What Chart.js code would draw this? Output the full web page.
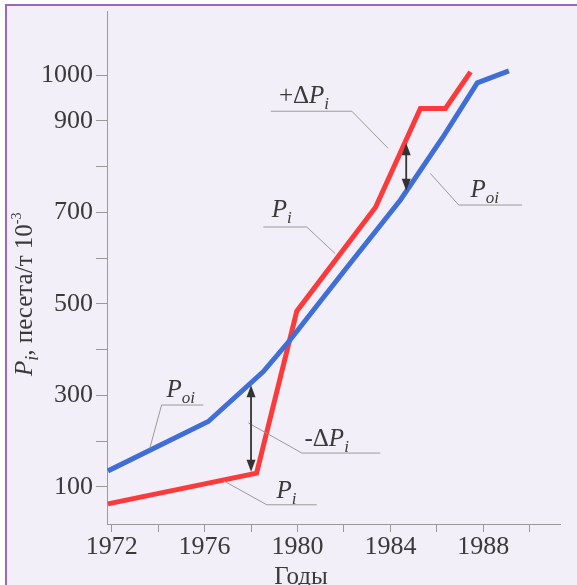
<!DOCTYPE html>
<html>
<head>
<meta charset="utf-8">
<script src="https://cdn.jsdelivr.net/npm/chart.js@4.4.1/dist/chart.umd.min.js"></script>
<style>
  html, body { margin: 0; padding: 0; background: #fff; }
  #wrap { width: 577px; height: 585px; position: relative; }
</style>
</head>
<body>
<div id="wrap"><canvas id="price-chart"></canvas></div>
<script>
// P_oi - smooth reference price, P_i - actual price (песета/т 10^-3)
const oiYears = [1971.84, 1976.16, 1978.53, 1979.68, 1982.1, 1984.43, 1986.23, 1987.74, 1989.1]
const oiPrices = [135, 243, 352, 421, 578, 727, 862, 983, 1009]
const iYears = [1971.84, 1978.24, 1979.97, 1983.36, 1985.29, 1986.37, 1987.45]
const iPrices = [63, 130, 484, 711, 927, 927, 1007]

const xTickValues = [1972, 1974, 1976, 1978, 1980, 1982, 1984, 1986, 1988, 1990]
const xTickLabels = [1972, 1976, 1980, 1984, 1988]
const yTickValues = [100, 200, 300, 400, 500, 600, 700, 800, 900, 1000]
const yTickLabels = [100, 300, 500, 700, 900, 1000]

// double arrows: [year, from, to]
const deltaArrows = [
  [1978.0, 133, 322],
  [1984.68, 747, 851]
]

// callout labels: prefix, subscript, text anchor [year, value], leader polyline
const callouts = [
  { pre: '+Δ', sub: 'i', at: [1979.2, 940], line: [[1978.85, 921], [1982.34, 921], [1983.9, 840]] },
  { pre: '', sub: 'oi', at: [1987.45, 734], line: [[1989.67, 716], [1986.94, 716], [1985.72, 785]] },
  { pre: '', sub: 'i', at: [1978.89, 690], line: [[1978.53, 668], [1980.4, 668], [1981.62, 610]] },
  { pre: '', sub: 'oi', at: [1974.36, 297], line: [[1975.95, 279], [1974.15, 279], [1973.64, 184]] },
  { pre: '-Δ', sub: 'i', at: [1980.3, 189], line: [[1983.56, 174], [1980.19, 174], [1977.88, 240]] },
  { pre: '', sub: 'i', at: [1979.1, 75], line: [[1980.83, 61], [1978.68, 61], [1976.83, 113]] }
]

const SERIF = '"Liberation Serif", "Times New Roman", serif'
const TEXT = '#3a3a3a'

function drawRich (ctx, x, y, parts) {
  let cx = x
  parts.forEach(p => {
    ctx.font = p.font
    ctx.fillText(p.t, cx, y + (p.dy || 0))
    cx += ctx.measureText(p.t).width
  })
}

const decorations = {
  id: 'decorations',
  beforeDraw (chart) {
    const ctx = chart.ctx
    ctx.save()
    ctx.fillStyle = '#fff'
    ctx.fillRect(0, 0, chart.width, chart.height)
    ctx.fillStyle = '#f3eff8'
    ctx.fillRect(5, 4, chart.width - 5, chart.height - 4)
    ctx.strokeStyle = '#9a68c4'
    ctx.lineWidth = 2
    ctx.beginPath()
    ctx.moveTo(6, chart.height)
    ctx.lineTo(6, 5)
    ctx.lineTo(chart.width, 5)
    ctx.stroke()
    ctx.restore()
  },
  afterDatasetsDraw (chart) {
    const ctx = chart.ctx
    const { x: xs, y: ys } = chart.scales
    const pt = (a) => [xs.getPixelForValue(a[0]), ys.getPixelForValue(a[1])]
    ctx.save()

    // leader lines
    ctx.strokeStyle = '#9a9a9a'
    ctx.lineWidth = 1
    callouts.forEach(c => {
      ctx.beginPath()
      c.line.forEach((p, i) => {
        const [px, py] = pt(p)
        if (i === 0) ctx.moveTo(px, py)
        else ctx.lineTo(px, py)
      })
      ctx.stroke()
    })

    // labels
    ctx.fillStyle = TEXT
    ctx.textBaseline = 'alphabetic'
    ctx.textAlign = 'left'
    callouts.forEach(c => {
      const [px, py] = pt(c.at)
      const parts = []
      if (c.pre) parts.push({ t: c.pre, font: '25px ' + SERIF })
      parts.push({ t: 'P', font: 'italic 25px ' + SERIF })
      parts.push({ t: c.sub, font: 'italic 17px ' + SERIF, dy: 6 })
      drawRich(ctx, px, py, parts)
    })

    // arrows
    ctx.strokeStyle = '#333'
    ctx.fillStyle = '#333'
    ctx.lineWidth = 1.8
    deltaArrows.forEach(([yr, a, b]) => {
      const x = xs.getPixelForValue(yr)
      const y1 = ys.getPixelForValue(a)
      const y2 = ys.getPixelForValue(b)
      ctx.beginPath()
      ctx.moveTo(x, y1 - 8)
      ctx.lineTo(x, y2 + 8)
      ctx.stroke()
      ;[[y1, -1], [y2, 1]].forEach(([y, d]) => {
        ctx.beginPath()
        ctx.moveTo(x, y)
        ctx.lineTo(x - 4.5, y + d * 12)
        ctx.lineTo(x + 4.5, y + d * 12)
        ctx.closePath()
        ctx.fill()
      })
    })

    // axis titles
    ctx.fillStyle = TEXT
    ctx.textAlign = 'center'
    ctx.font = '25px ' + SERIF
    ctx.fillText('Годы', 301, 584)

    ctx.textAlign = 'left'
    ctx.translate(32, 376)
    ctx.rotate(-Math.PI / 2)
    drawRich(ctx, 0, 0, [
      { t: 'P', font: 'italic 25px ' + SERIF },
      { t: 'i', font: 'italic 18px ' + SERIF, dy: 6 },
      { t: ', песета/т 10', font: '25px ' + SERIF },
      { t: '-3', font: '14px ' + SERIF, dy: -11 }
    ])
    ctx.restore()
  }
}

const ctx = document.getElementById('price-chart')

const chart = new Chart(ctx, {
  type: 'line',
  data: {
    datasets: [{
      label: 'Poi',
      data: oiYears.map((x, i) => ({ x, y: oiPrices[i] })),
      borderColor: '#3f6fd6',
      borderWidth: 5,
      pointRadius: 0,
      tension: 0,
      fill: false
    }, {
      label: 'Pi',
      data: iYears.map((x, i) => ({ x, y: iPrices[i] })),
      borderColor: '#fb3b3b',
      borderWidth: 5,
      pointRadius: 0,
      tension: 0,
      fill: false
    }]
  },
  options: {
    responsive: true,
    maintainAspectRatio: false,
    animation: false,
    layout: { padding: { left: 0, top: 11, right: 17, bottom: 0 } },
    plugins: {
      legend: { display: false },
      tooltip: { enabled: false }
    },
    scales: {
      x: {
        type: 'linear',
        min: 1971.8,
        max: 1991.3,
        afterBuildTicks: (scale) => { scale.ticks = xTickValues.map(v => ({ value: v })) },
        afterFit: (scale) => {
          scale.height = 61
          scale.paddingLeft = 0
          scale.paddingRight = 0
        },
        ticks: {
          autoSkip: false,
          maxRotation: 0,
          padding: 0,
          color: TEXT,
          font: { family: SERIF, size: 26 },
          callback: (v) => xTickLabels.includes(v) ? String(v) : ''
        },
        grid: { drawOnChartArea: false, tickLength: 8, color: '#9a9a9a' },
        border: { color: '#9a9a9a' }
      },
      y: {
        type: 'linear',
        min: 19,
        max: 1140,
        afterBuildTicks: (scale) => { scale.ticks = yTickValues.map(v => ({ value: v })) },
        afterFit: (scale) => {
          scale.width = 107
          scale.paddingTop = 0
          scale.paddingBottom = 0
        },
        ticks: {
          autoSkip: false,
          padding: 3,
          color: TEXT,
          font: { family: SERIF, size: 26 },
          callback: (v) => yTickLabels.includes(v) ? String(v) : ''
        },
        grid: { drawOnChartArea: false, tickLength: 11, color: '#9a9a9a' },
        border: { color: '#9a9a9a' }
      }
    }
  },
  plugins: [decorations]
})
</script>
</body>
</html>
